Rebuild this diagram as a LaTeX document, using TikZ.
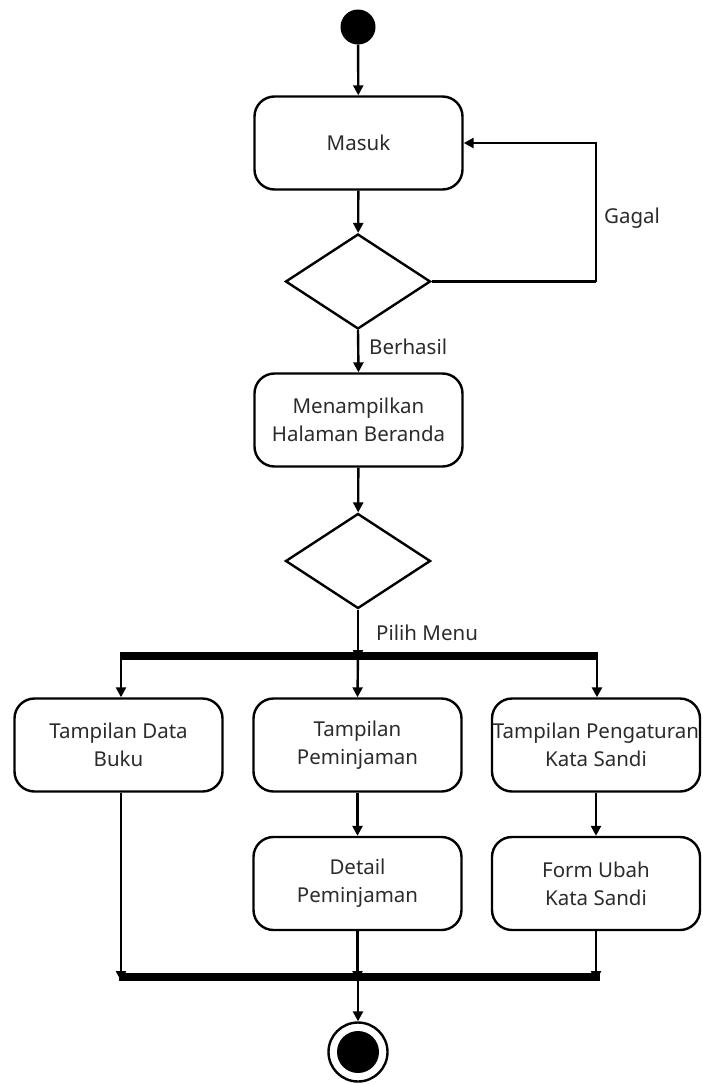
\documentclass[tikz,border=0pt]{standalone}
\usepackage{fontspec}
\setmainfont{Noto Sans}
\usetikzlibrary{shapes.geometric,arrows.meta}
\definecolor{txt}{HTML}{2B2B2B}
\tikzset{
  act/.style={draw, line width=2.4pt, rounded corners=20pt, minimum width=208pt, minimum height=93pt, align=center, text=txt, font=\fontsize{20.5}{28}\selectfont, inner sep=0pt},
  dec/.style={draw, diamond, line width=2.4pt, minimum width=145pt, minimum height=95pt, inner sep=0pt},
  lbl/.style={text=txt, font=\fontsize{20.5}{28}\selectfont, inner sep=0pt},
  flow/.style={line width=2.4pt, -{Triangle[length=10pt,width=10pt]}},
  bar/.style={line width=8pt},
}
\begin{document}
\begin{tikzpicture}[x=1pt,y=-1pt]
\useasboundingbox (0,0) rectangle (702,1084);
\node[circle, fill=black, minimum size=35pt, inner sep=0pt] (start) at (358,27) {};
\node[act] (masuk) at (358.5,143) {Masuk};
\node[dec] (d1) at (358,281.5) {};
\node[act] (beranda) at (358.5,420) {Menampilkan\\Halaman Beranda};
\node[dec] (d2) at (358,561) {};
\node[act] (buku) at (118.5,745) {Tampilan Data\\Buku};
\node[act] (pinjam) at (357.5,745) {Tampilan\\Peminjaman};
\node[act] (sandi) at (596,745) {Tampilan Pengaturan\\Kata Sandi};
\node[act] (detail) at (357.5,883.5) {Detail\\Peminjaman};
\node[act] (ubah) at (596,883.5) {Form Ubah\\Kata Sandi};
\node[circle, draw, line width=2.4pt, minimum size=59pt, inner sep=0pt] (end) at (358,1052) {};
\node[circle, fill=black, minimum size=42pt, inner sep=0pt] (endin) at (end.center) {};
\coordinate (forkL) at (121,656);
\coordinate (forkR) at (597,656);
\coordinate (joinL) at (119,977);
\coordinate (joinR) at (600,977);
\coordinate (gagalc) at (596,281.5);
\draw[bar] (forkL) -- (forkR);
\draw[bar] (joinL) -- (joinR);
\draw[flow] (start) -- (masuk);
\draw[flow] (masuk) -- (d1);
\draw[line width=2.4pt] (d1.east) -- (gagalc);
\draw[flow] (gagalc) |- (masuk.east);
\node[lbl, anchor=west] (gagal) at (604,218) {Gagal};
\draw[flow] (d1.south) -- (beranda.north);
\node[lbl, anchor=west] (berhasil) at (369,347) {Berhasil};
\draw[flow] (beranda) -- (d2);
\draw[flow] (d2.south) -- ([yshift=-4pt]d2.south |- forkL);
\node[lbl, anchor=west] (pilih) at (376,633) {Pilih Menu};
\draw[flow] ([yshift=4pt]forkL) -- (forkL |- buku.north);
\draw[flow] ([yshift=4pt]d2.south |- forkL) -- (pinjam.north);
\draw[flow] ([yshift=4pt]forkR) -- (forkR |- sandi.north);
\draw[flow] (pinjam) -- (detail);
\draw[flow] (sandi) -- (ubah);
\draw[flow] (forkL |- buku.south) -- ([yshift=-4pt]forkL |- joinL);
\draw[flow] (detail.south) -- ([yshift=-4pt]detail.south |- joinL);
\draw[flow] (ubah.south) -- ([yshift=-4pt]ubah.south |- joinL);
\draw[flow] ([yshift=4pt]end.north |- joinL) -- (end.north);
\end{tikzpicture}
\end{document}
